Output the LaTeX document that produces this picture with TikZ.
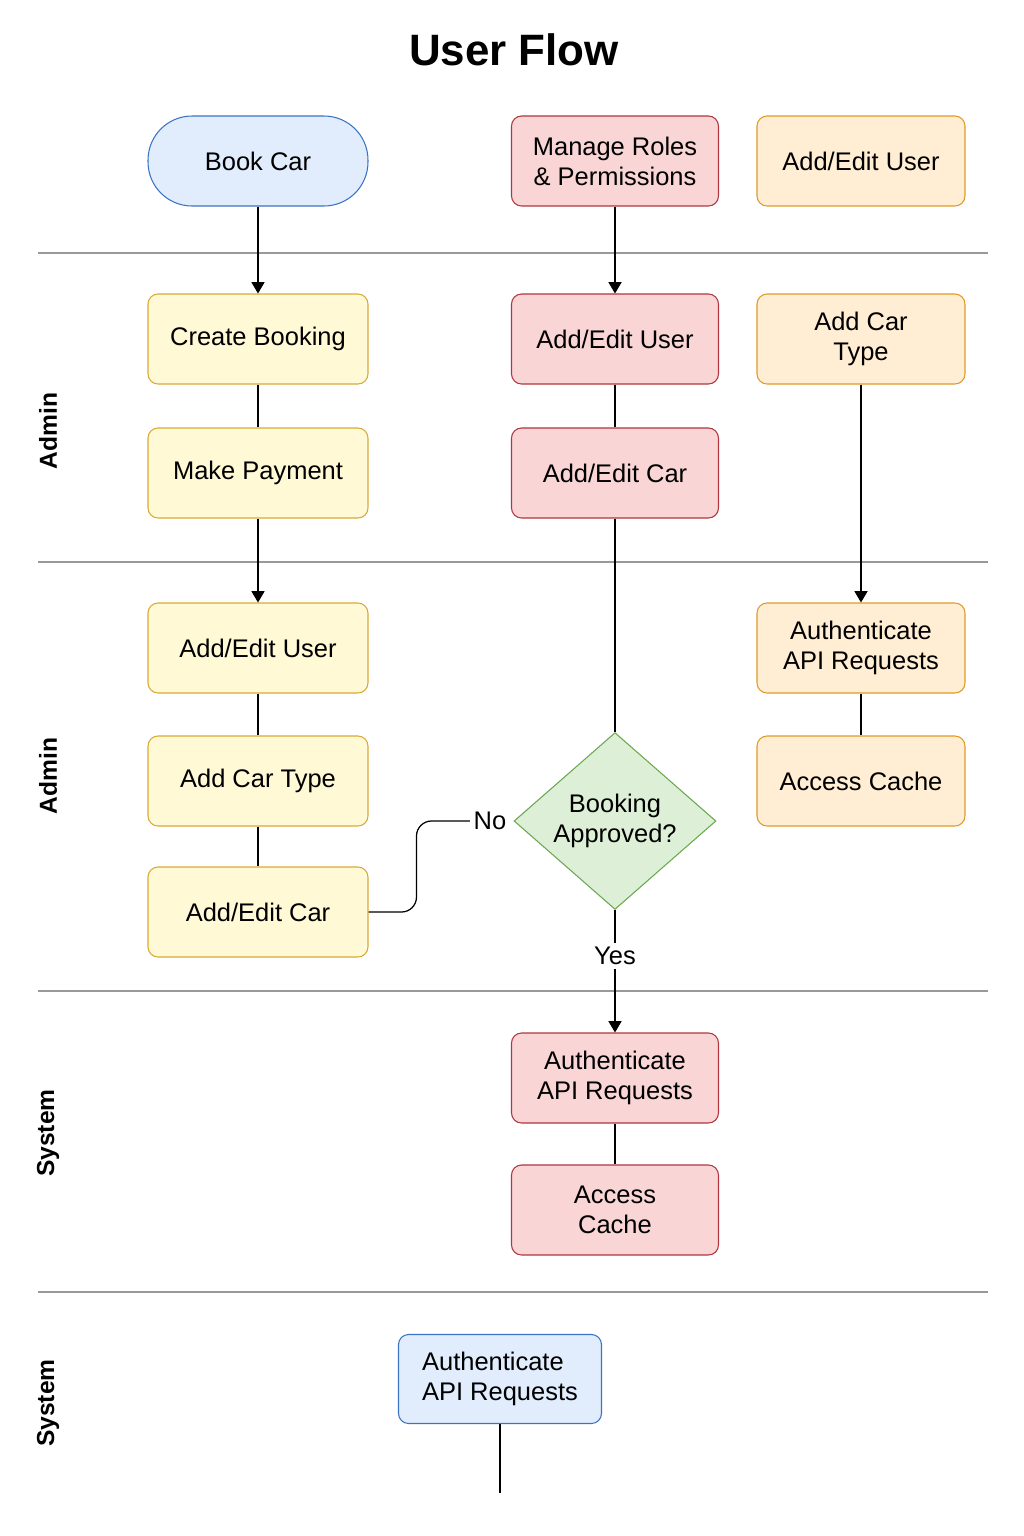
\documentclass[tikz,border=0pt]{standalone}
\usepackage{fontspec}
\setmainfont{Liberation Sans}
\usetikzlibrary{shapes.geometric,arrows.meta}

\definecolor{blueFill}{HTML}{E1EDFD}
\definecolor{blueLine}{HTML}{3B73C4}
\definecolor{yelFill}{HTML}{FFF9D6}
\definecolor{yelLine}{HTML}{D9AA35}
\definecolor{redFill}{HTML}{F9D5D5}
\definecolor{redLine}{HTML}{B0363F}
\definecolor{oraFill}{HTML}{FFEED3}
\definecolor{oraLine}{HTML}{E09A2A}
\definecolor{grnFill}{HTML}{DDEFD6}
\definecolor{grnLine}{HTML}{6AA84F}
\definecolor{laneLine}{HTML}{999999}

\begin{document}
\begin{tikzpicture}[x=0.02cm,y=-0.02cm,
  box/.style={draw,rounded corners=0.2cm,minimum width=4.4cm,minimum height=1.8cm,
    align=center,font=\fontsize{14.5pt}{17pt}\selectfont,line width=0.6pt},
  yelbox/.style={box,fill=yelFill,draw=yelLine},
  redbox/.style={box,fill=redFill,draw=redLine,minimum width=4.14cm},
  orabox/.style={box,fill=oraFill,draw=oraLine,minimum width=4.16cm},
  bluebox/.style={box,fill=blueFill,draw=blueLine},
  lane/.style={rotate=90,font=\bfseries\fontsize{14pt}{17pt}\selectfont},
  tag/.style={font=\fontsize{14.5pt}{17pt}\selectfont,inner sep=2pt},
  conn/.style={line width=0.7pt},
  arr/.style={conn,-{Triangle[length=6.5pt,width=7.5pt]}}]

  \useasboundingbox[fill=white] (0,0) rectangle (1024,1536);

  \node[font=\bfseries\fontsize{25pt}{30pt}\selectfont] (title) at (514,50) {User Flow};

  % lanes
  \foreach \y in {253,562,991,1292}
    \draw[laneLine,line width=0.6pt] (38,\y) -- (988,\y);
  \node[lane] (lane1) at (48,431) {Admin};
  \node[lane] (lane2) at (48,776) {Admin};
  \node[lane] (lane3) at (48,1133) {System};
  \node[lane] (lane4) at (48,1403) {System};

  % left column
  \node[bluebox,rounded corners=0.88cm] (book) at (258,161) {Book Car};
  \node[yelbox] (create) at (258,339) {Create Booking};
  \node[yelbox] (pay) at (258,473) {Make Payment};
  \node[yelbox] (user1) at (258,648) {Add/Edit User};
  \node[yelbox] (type1) at (258,781) {Add Car Type};
  \node[yelbox] (car1) at (258,912) {Add/Edit Car};

  % middle column
  \node[redbox] (roles) at (615,161) {Manage Roles\\\& Permissions};
  \node[redbox] (user2) at (615,339) {Add/Edit User};
  \node[redbox] (car2) at (615,473) {Add/Edit Car};
  \node[diamond,draw=grnLine,fill=grnFill,line width=0.6pt,inner sep=0pt,
    minimum width=4.04cm,minimum height=3.52cm,align=center,
    font=\fontsize{14.5pt}{17pt}\selectfont] (approve) at (615,821) {Booking\\Approved?};
  \node[tag] (no) at (490,821) {No};
  \node[tag] (yes) at (615,956) {Yes};
  \node[redbox] (auth2) at (615,1078) {Authenticate\\API Requests};
  \node[redbox] (cache2) at (615,1210) {Access\\Cache};

  % right column
  \node[orabox] (user3) at (861,161) {Add/Edit User};
  \node[orabox] (type3) at (861,339) {Add Car\\Type};
  \node[orabox] (auth3) at (861,648) {Authenticate\\API Requests};
  \node[orabox] (cache3) at (861,781) {Access Cache};

  % bottom
  \node[bluebox,minimum width=4.06cm,minimum height=1.78cm,align=left] (auth4) at (500,1379) {Authenticate\\API Requests};
  \coordinate (tail) at (500,1493);

  \draw[arr] (book) -- (create);
  \draw[conn] (create) -- (pay);
  \draw[arr] (pay) -- (user1);
  \draw[conn] (user1) -- (type1);
  \draw[conn] (type1) -- (car1);
  \draw[conn,rounded corners=0.3cm] (car1.east) -- ++(48,0) |- (no.west);

  \draw[arr] (roles) -- (user2);
  \draw[conn] (user2) -- (car2);
  \draw[conn] (car2) -- (approve.north);
  \draw[conn] (approve.south) -- (yes.north);
  \draw[arr] (yes.south) -- (auth2);
  \draw[conn] (auth2) -- (cache2);

  \draw[arr] (type3) -- (auth3);
  \draw[conn] (auth3) -- (cache3);

  \draw[conn] (auth4) -- (tail);

\end{tikzpicture}
\end{document}
